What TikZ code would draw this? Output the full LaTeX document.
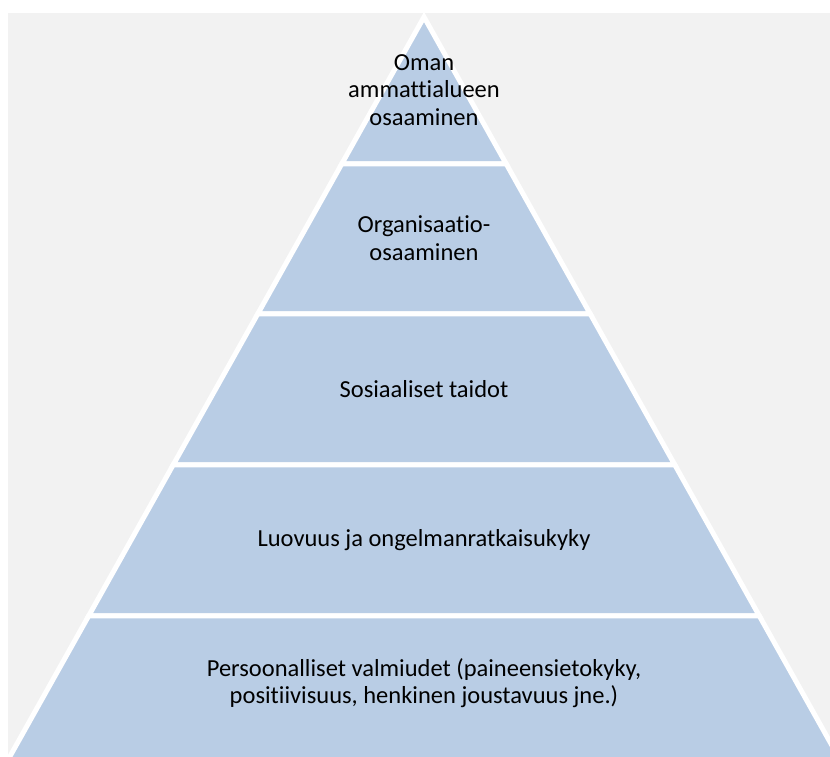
\documentclass[tikz,border=0pt]{standalone}
\usepackage{fontspec}
\setmainfont{Carlito}[Ligatures={NoCommon}]
\definecolor{bgray}{HTML}{F2F2F2}
\definecolor{lblue}{HTML}{B9CDE5}
\begin{document}
\begin{tikzpicture}[x=1pt,y=1pt,
  layer/.style={fill=lblue,draw=white,line width=5pt},
  lbl/.style={align=center,font=\fontsize{24.5}{27.5}\selectfont,text=black}]
\clip (0,0) rectangle (830,757);
\fill[white] (0,0) rectangle (830,757);
\fill[bgray] (8,0) rectangle (830,744);
% layers
\path[layer] (424,740) -- (506.3,593) -- (341.7,593) -- cycle;
\path[layer] (341.7,593) -- (506.3,593) -- (590.3,443) -- (257.7,443) -- cycle;
\path[layer] (257.7,443) -- (590.3,443) -- (674.9,292) -- (173.1,292) -- cycle;
\path[layer] (173.1,292) -- (674.9,292) -- (759.4,141) -- (88.6,141) -- cycle;
\path[layer] (88.6,141) -- (759.4,141) -- (844,-10) -- (4,-10) -- cycle;
% labels
\node[lbl] (l1) at (424,667) {Oman\\ammattialueen\\osaaminen};
\node[lbl] (l2) at (424,519) {Organisaatio-\\osaaminen};
\node[lbl] (l3) at (424,367.5) {Sosiaaliset taidot};
\node[lbl] (l4) at (424,217) {Luovuus ja ongelmanratkaisukyky};
\node[lbl] (l5) at (424,74) {Persoonalliset valmiudet (paineensietokyky,\\positiivisuus, henkinen joustavuus jne.)};
\end{tikzpicture}
\end{document}
